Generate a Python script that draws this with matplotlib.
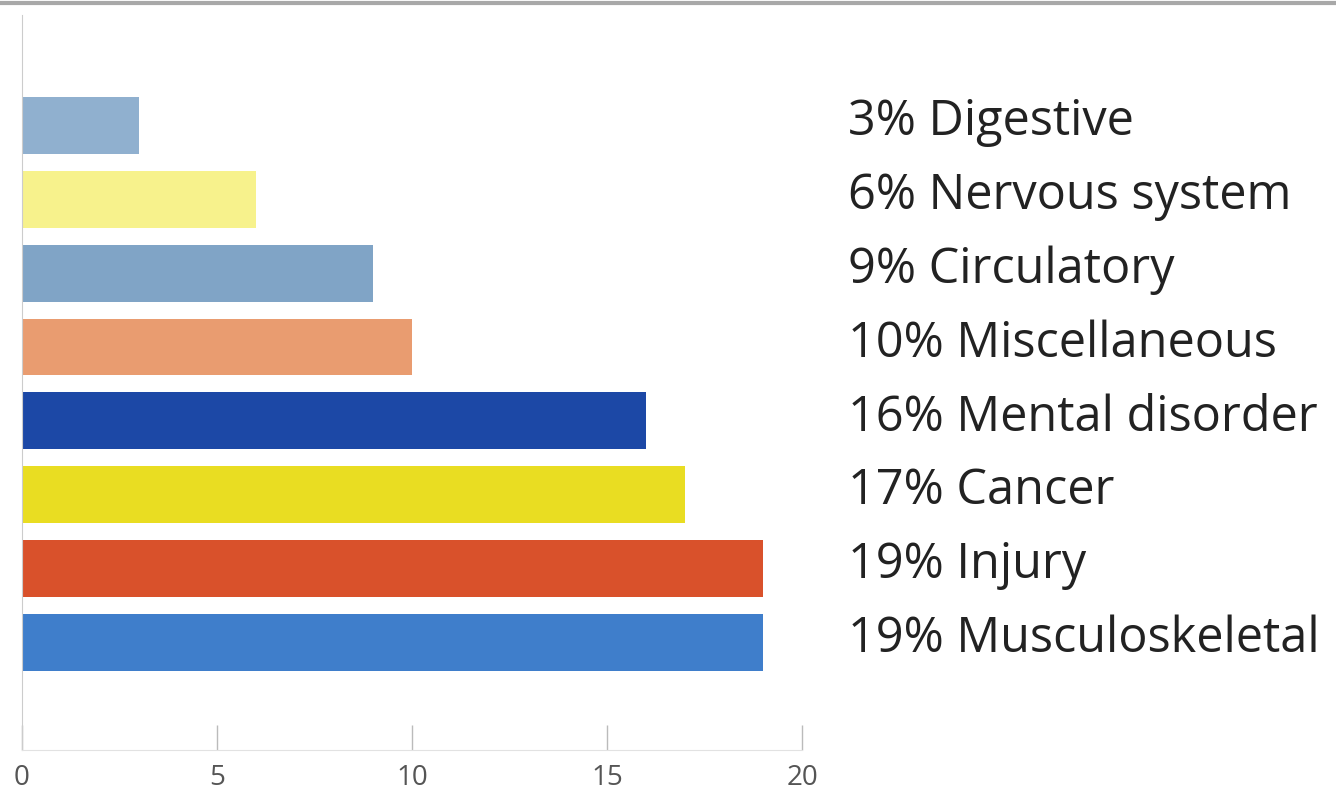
from matplotlib import pyplot as plt
import numpy as np

plt.rcParams['font.family'] = ['Open Sans', 'DejaVu Sans']

# data, top to bottom
categories = ['Digestive', 'Nervous system', 'Circulatory', 'Miscellaneous',
              'Mental disorder', 'Cancer', 'Injury', 'Musculoskeletal']
values = [3, 6, 9, 10, 16, 17, 19, 19]
colors = ['#90b0cf', '#f7f28c', '#80a4c6', '#e99c70',
          '#1c48a6', '#e9dd22', '#d9512b', '#3f7ecb']
xticks = [0, 5, 10, 15, 20]

fig = plt.figure(figsize=(13.36, 7.92), dpi=100)
ax = fig.add_axes([22 / 1336, 42 / 792, (802 - 22) / 1336, (750 - 15) / 792])

y = np.arange(len(categories))[::-1]
ax.barh(y, values, height=0.77, color=colors, edgecolor='none')

ax.set_xlim(0, 20)
ax.set_ylim(-1.46, 8.5)

for yi, v, name in zip(y, values, categories):
    ax.text(21.18, yi + 0.04, f"{v}% {name}", va='center', ha='left',
            fontsize=35, color='#222222', clip_on=False)

ax.set_xticks(xticks)
ax.set_xticklabels([str(t) for t in xticks], fontsize=20, color='#555555')
ax.tick_params(axis='x', direction='in', length=18, width=1, color='#bbbbbb', pad=10)
ax.set_yticks([])

for s in ['top', 'right']:
    ax.spines[s].set_visible(False)
ax.spines['left'].set_color('#cccccc')
ax.spines['bottom'].set_color('#e2e2e2')

# grey strip along the top edge
fig.add_artist(plt.Line2D([0, 1], [0.996, 0.996], transform=fig.transFigure,
                          color='#a8a8a8', linewidth=3))

plt.savefig("out.png", dpi=100)
